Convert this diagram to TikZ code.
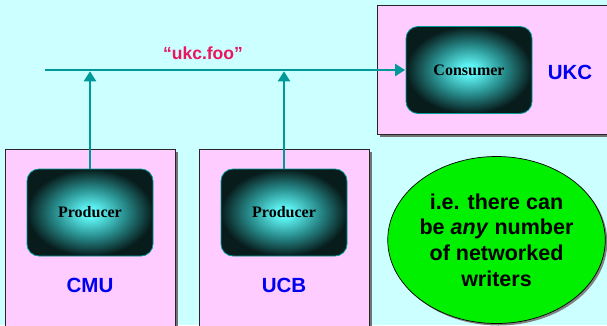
\documentclass[tikz,border=0pt]{standalone}
\usepackage{fontspec}
\setmainfont{Liberation Serif}
\setsansfont{Liberation Sans}
\usetikzlibrary{arrows.meta,shapes.geometric,shadows}
\definecolor{bgcol}{RGB}{204,255,255}
\definecolor{pinkcol}{RGB}{255,204,255}
\definecolor{tealcol}{RGB}{0,153,153}
\definecolor{bluecol}{RGB}{0,0,240}
\definecolor{redcol}{RGB}{235,20,95}
\definecolor{greencol}{RGB}{0,240,0}
\definecolor{glowin}{RGB}{95,245,245}
\definecolor{glowmid}{RGB}{40,140,140}
\definecolor{glowout}{RGB}{8,28,28}
\pgfdeclareradialshading{glow}{\pgfpoint{0bp}{0bp}}{color(0bp)=(glowin); color(3bp)=(glowin); color(14bp)=(glowmid); color(25bp)=(glowout); color(40bp)=(glowout)}
\tikzset{
  region/.style={rectangle, draw=black!85, line width=0.9pt, fill=pinkcol, anchor=north west,
    drop shadow={shadow xshift=2.5pt, shadow yshift=-2.5pt, fill=black!55, opacity=1}},
  procbox/.style={rectangle, rounded corners=12pt, minimum width=126pt, minimum height=87pt,
    draw=tealcol, line width=0.8pt, shade, shading=glow,
    font=\fontsize{16}{19}\selectfont\bfseries},
  sitelabel/.style={text=bluecol, font=\fontsize{20.5}{24}\selectfont\sffamily\bfseries},
  flow/.style={draw=tealcol, line width=2.2pt, -{Triangle[length=10pt,width=12pt]}},
}
\begin{document}
\begin{tikzpicture}[x=1pt,y=-1pt]
\useasboundingbox (0,0) rectangle (607,325);
\clip (0,0) rectangle (607,325);
\fill[bgcol] (0,0) rectangle (607,325);
% regions
\node[region, minimum width=240pt, minimum height=129pt] (ukcbox) at (377,5) {};
\node[region, minimum width=170pt, minimum height=190pt] (cmubox) at (5,149) {};
\node[region, minimum width=170pt, minimum height=190pt] (ucbbox) at (199,149) {};
% process nodes
\node[procbox] (cons) at (469,70) {Consumer};
\node[procbox] (p1) at (90,212.5) {Producer};
\node[procbox] (p2) at (284,212.5) {Producer};
% site labels
\node[sitelabel] (ukc) at (570,72) {UKC};
\node[sitelabel] (cmu) at (90,285) {CMU};
\node[sitelabel] (ucb) at (284,285) {UCB};
% channel
\coordinate (start) at (45,70);
\draw[flow, shorten >=0.5pt] (start) -- (cons.west);
\node[text=redcol, font=\fontsize{17.5}{21}\selectfont\sffamily\bfseries] (topic) at (203,53) {“ukc.foo”};
\draw[flow, shorten >=1.3pt] (p1.north) -- (p1.north |- start);
\draw[flow, shorten >=1.3pt] (p2.north) -- (p2.north |- start);
% note
\node[ellipse, minimum width=207pt, minimum height=167pt, inner sep=0pt, fill=greencol, draw=black, line width=0.7pt,
  drop shadow={shadow xshift=2pt, shadow yshift=-2pt, fill=black!50, opacity=1},
  align=center, font=\fontsize{21.5}{25.7}\selectfont\sffamily\bfseries] (note) at (496.5,240)
  {i.e. there can\\be \textit{any} number\\of networked\\writers};
\end{tikzpicture}
\end{document}
